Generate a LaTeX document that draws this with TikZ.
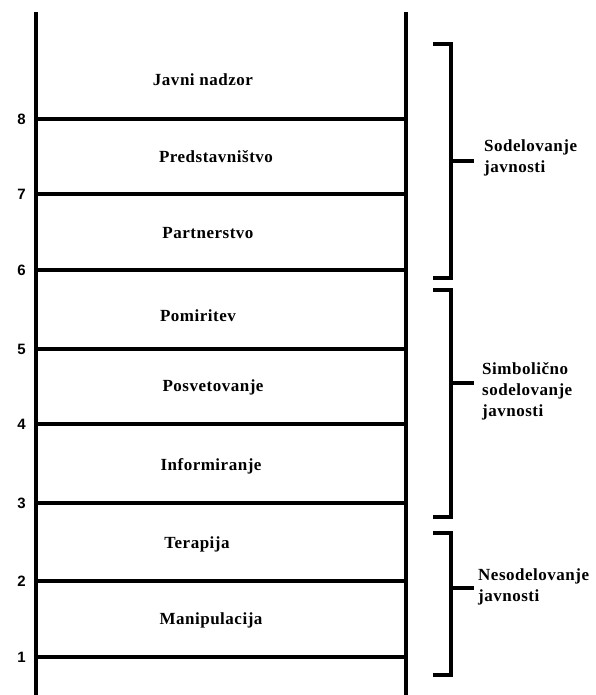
\documentclass[tikz,border=0pt]{standalone}
\usepackage{fontspec}
\setmainfont{Liberation Serif}[LetterSpace=3]
\setsansfont{Liberation Sans}
\usetikzlibrary{positioning,calc}
\tikzset{
  rail/.style={
    draw=black,
    line width=4.5pt
  },
  rung/.style={
    draw=black,
    line width=4pt
  },
  bracket/.style={
    draw=black,
    line width=3.5pt
  },
  rung label/.style={
    font=\bfseries\fontsize{17}{17}\selectfont,
    text=black,
    inner sep=0pt
  },
  step number/.style={
    font=\sffamily\bfseries\fontsize{15}{15}\selectfont,
    text=black,
    inner sep=0pt
  },
  group label/.style={
    font=\bfseries\fontsize{17}{21}\selectfont,
    text=black,
    align=left,
    inner sep=0pt
  }
}

\begin{document}
\begin{tikzpicture}[x=1pt, y=-1pt]

\useasboundingbox (0,0) rectangle (596,695);

% ---------------------------------------------------------------------------
% 1. Ladder rails and rungs
% ---------------------------------------------------------------------------
\coordinate (leftTop) at (36,12);
\coordinate (leftBottom) at (36,695);
\coordinate (rightTop) at (406,12);
\coordinate (rightBottom) at (406,695);
\draw[rail] (leftTop) -- (leftBottom);
\draw[rail] (rightTop) -- (rightBottom);

\foreach \n/\y in {1/657, 2/581, 3/503, 4/424, 5/349, 6/270, 7/194, 8/119} {
  \coordinate (L\n) at (36,\y);
  \coordinate (R\n) at (406,\y);
  \draw[rung] (L\n) -- (R\n);
  \node[step number, left=10pt of L\n] (num\n) {\n};
}

% ---------------------------------------------------------------------------
% 2. Rung labels
% ---------------------------------------------------------------------------
\node[rung label] (control) at (203,80) {Javni nadzor};
\node[rung label] (delegated) at (216,157) {Predstavništvo};
\node[rung label] (partner) at (208,233) {Partnerstvo};
\node[rung label] (placate) at (198,316) {Pomiritev};
\node[rung label] (consult) at (213,387) {Posvetovanje};
\node[rung label] (inform) at (211,466) {Informiranje};
\node[rung label] (therapy) at (197,544) {Terapija};
\node[rung label] (manip) at (211,620) {Manipulacija};

% ---------------------------------------------------------------------------
% 3. Group brackets
% ---------------------------------------------------------------------------
\foreach \g/\top/\bot/\mid in {power/44/278/161, token/290/517/383, nonp/533/675/588} {
  \coordinate (\g Top) at (433,\top);
  \coordinate (\g Bottom) at (433,\bot);
  \coordinate (\g Mid) at (451,\mid);
  \coordinate (\g Tick) at (474,\mid);
  \draw[bracket] (\g Top) -| (\g Mid) |- (\g Bottom);
  \draw[bracket] (\g Mid) -- (\g Tick);
}

\node[group label, right=10pt of powerTick, yshift=3pt] (powerText) {Sodelovanje\\javnosti};
\node[group label, right=8pt of tokenTick, yshift=-8pt] (tokenText) {Simbolično\\sodelovanje\\javnosti};
\node[group label, right=4pt of nonpTick, yshift=1pt] (nonpText) {Nesodelovanje\\javnosti};

\end{tikzpicture}
\end{document}
